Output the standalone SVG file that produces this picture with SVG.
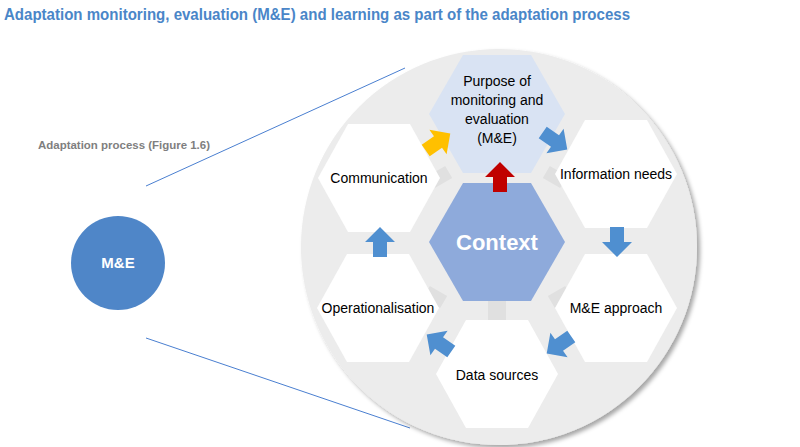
<svg xmlns="http://www.w3.org/2000/svg" width="800" height="447" viewBox="0 0 800 447">
<style>
text{font-family:"Liberation Sans",Arial,sans-serif}
.t{font-size:14px;fill:#000;text-anchor:middle}
.w{fill:#fff}
.spoke{fill:#e0e0e0}
</style>
<defs>
<path id="hx" d="M-61,0 L-31,-54 L31,-54 L61,0 L31,54 L-31,54 Z"/>
<path id="hb" d="M-68,0 L-34,-59 L34,-59 L68,0 L34,59 L-34,59 Z"/>
<path id="ar" d="M0,-15 L15,0 L7,0 L7,15 L-7,15 L-7,0 L-15,0 Z"/>
<filter id="sh" x="-10%" y="-10%" width="120%" height="120%"><feDropShadow dx="3" dy="3" stdDeviation="2" flood-color="#000" flood-opacity="0.35"/></filter>
</defs>
<rect width="800" height="447" fill="#fff"/>
<text x="4" y="20" font-size="16" font-weight="bold" fill="#4a86c8" textLength="626" lengthAdjust="spacingAndGlyphs">Adaptation monitoring, evaluation (M&amp;E) and learning as part of the adaptation process</text>
<text x="38" y="149" font-size="11.5" font-weight="bold" fill="#7f7f7f" textLength="172" lengthAdjust="spacingAndGlyphs">Adaptation process (Figure 1.6)</text>
<g id="connectors">
<line x1="146" y1="186" x2="405" y2="68" stroke="#4a7fd0" stroke-width="1"/>
<line x1="146" y1="338" x2="410" y2="428" stroke="#4a7fd0" stroke-width="1"/>
</g>
<g id="me">
<circle cx="118" cy="263" r="47" fill="#4f86c8"/>
<text x="118" y="268" font-size="15" font-weight="bold" fill="#fff" text-anchor="middle">M&amp;E</text>
</g>
<g id="lens">
<circle cx="499" cy="247" r="198" fill="#ececec" filter="url(#sh)"/>
<rect class="spoke" x="430" y="170" width="20" height="14" transform="rotate(-30 440 177)"/>
<rect class="spoke" x="545" y="170" width="20" height="14" transform="rotate(30 555 177)"/>
<rect class="spoke" x="425" y="290" width="20" height="14" transform="rotate(30 435 297)"/>
<rect class="spoke" x="550" y="290" width="20" height="14" transform="rotate(-30 560 297)"/>
<rect class="spoke" x="488" y="300" width="18" height="22"/>
</g>
<g id="purpose"><use href="#hb" x="497" y="114" fill="#d9e3f3"/>
<text class="t"><tspan x="497" y="86">Purpose of</tspan><tspan x="497" y="105">monitoring and</tspan><tspan x="497" y="124">evaluation</tspan><tspan x="497" y="143">(M&amp;E)</tspan></text></g>
<g id="context"><use href="#hb" x="497" y="242" fill="#8eaadb"/>
<text x="497" y="250" font-size="22" font-weight="bold" fill="#fff" text-anchor="middle">Context</text></g>
<g id="communication"><use href="#hx" x="379" y="178" class="w"/><text class="t" x="379" y="183">Communication</text></g>
<g id="info"><use href="#hx" x="616" y="174" class="w"/><text class="t" x="616" y="179">Information needs</text></g>
<g id="approach"><use href="#hx" x="616" y="308" class="w"/><text class="t" x="616" y="313">M&amp;E approach</text></g>
<g id="operational"><use href="#hx" x="378" y="308" class="w"/><text class="t" x="378" y="313">Operationalisation</text></g>
<g id="datasources"><use href="#hx" x="497" y="374" class="w"/><text class="t" x="497" y="380">Data sources</text></g>
<g id="arrows">
<use href="#ar" transform="translate(438 142) rotate(55)" fill="#ffc000"/>
<use href="#ar" transform="translate(555 141) rotate(125)" fill="#4f8fd0"/>
<use href="#ar" transform="translate(500 177)" fill="#c00000"/>
<use href="#ar" transform="translate(617 242) rotate(180)" fill="#4f8fd0"/>
<use href="#ar" transform="translate(559 345) rotate(235)" fill="#4f8fd0"/>
<use href="#ar" transform="translate(439 343) rotate(-55)" fill="#4f8fd0"/>
<use href="#ar" transform="translate(380 242)" fill="#4f8fd0"/>
</g>
</svg>
